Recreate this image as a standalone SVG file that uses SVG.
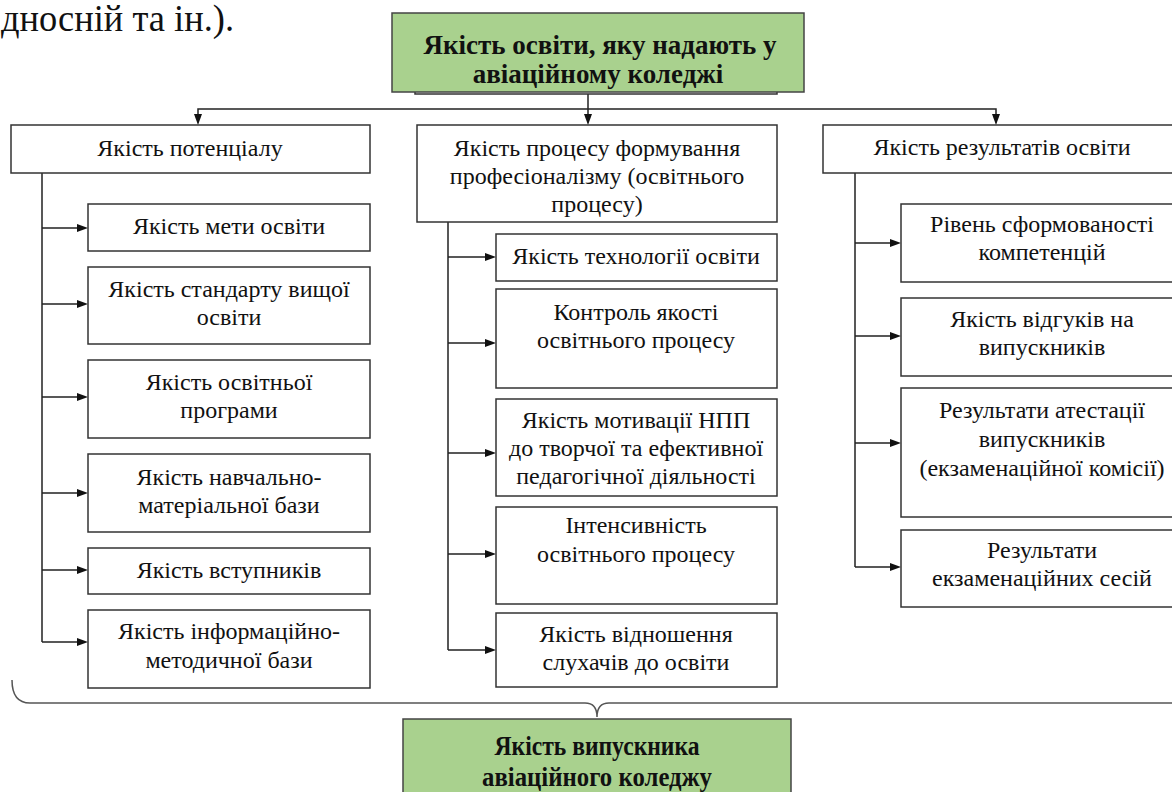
<svg xmlns="http://www.w3.org/2000/svg" width="1172" height="792" viewBox="0 0 1172 792">
<defs>
<style>
.bx{fill:#fff;stroke:#333;stroke-width:1.5}
.gr{fill:#a9d18e;stroke:#444;stroke-width:1.5}
.t{font-size:24px;text-anchor:middle;fill:#111}
.tb{font-size:27px;font-weight:bold;text-anchor:middle;fill:#111}
.ln{fill:none;stroke:#222;stroke-width:1.5}
.br{fill:none;stroke:#555;stroke-width:1.5}
</style>
<path id="ah" d="M-11,-4 L0,0 L-11,4 z" fill="#111"/>
</defs>
<rect width="1172" height="792" fill="#fff"/>

<g id="connectors">
<path class="ln" d="M588,94 V122"/>
<path class="ln" d="M198,122 V109 H996 V122"/>
<use href="#ah" transform="translate(588,125) rotate(90)"/>
<use href="#ah" transform="translate(198,125) rotate(90)"/>
<use href="#ah" transform="translate(996,125) rotate(90)"/>
<path class="ln" d="M42,173 V642 M42,228 H80 M42,304 H80 M42,397 H80 M42,493 H80 M42,570 H80 M42,642 H80"/>
<use href="#ah" transform="translate(88,228)"/>
<use href="#ah" transform="translate(88,304)"/>
<use href="#ah" transform="translate(88,397)"/>
<use href="#ah" transform="translate(88,493)"/>
<use href="#ah" transform="translate(88,570)"/>
<use href="#ah" transform="translate(88,642)"/>
<path class="ln" d="M448,222 V650 M448,257 H488 M448,343 H488 M448,453 H488 M448,554 H488 M448,650 H488"/>
<use href="#ah" transform="translate(496,257)"/>
<use href="#ah" transform="translate(496,343)"/>
<use href="#ah" transform="translate(496,453)"/>
<use href="#ah" transform="translate(496,554)"/>
<use href="#ah" transform="translate(496,650)"/>
<path class="ln" d="M855,173 V567 M855,243 H893 M855,336 H893 M855,443 H893 M855,567 H893"/>
<use href="#ah" transform="translate(901,243)"/>
<use href="#ah" transform="translate(901,336)"/>
<use href="#ah" transform="translate(901,443)"/>
<use href="#ah" transform="translate(901,567)"/>
<path class="br" d="M12,680 Q12,703 30,703 L585,703 Q597,703 597,717 Q597,703 609,703 L1172,703"/>
</g>

<text x="1" y="31" font-family="Liberation Serif" font-size="37" fill="#111" textLength="233" lengthAdjust="spacingAndGlyphs">дносній та ін.).</text>

<g id="top">
<rect class="bx" x="415" y="20" width="362" height="74"/>
<rect class="gr" x="392" y="13" width="412" height="79"/>
<text class="tb" font-family="Liberation Serif" x="600" y="54">Якість освіти, яку надають у</text>
<text class="tb" font-family="Liberation Serif" x="598" y="83">авіаційному коледжі</text>
</g>

<g id="potential">
<rect class="bx" x="11" y="125" width="359" height="48"/>
<text class="t" font-family="Liberation Serif" x="190" y="156">Якість потенціалу</text>
</g>
<g id="process">
<rect class="bx" x="417" y="125" width="360" height="97"/>
<text class="t" font-family="Liberation Serif" x="597" y="156">Якість процесу формування</text>
<text class="t" font-family="Liberation Serif" x="597" y="184">професіоналізму (освітнього</text>
<text class="t" font-family="Liberation Serif" x="597" y="212">процесу)</text>
</g>
<g id="results">
<rect class="bx" x="823" y="125" width="360" height="48"/>
<text class="t" font-family="Liberation Serif" x="1002" y="155">Якість результатів освіти</text>
</g>

<g id="l1"><rect class="bx" x="88" y="204" width="282" height="47"/><text class="t" font-family="Liberation Serif" x="229" y="234">Якість мети освіти</text></g>
<g id="l2"><rect class="bx" x="88" y="267" width="282" height="77"/><text class="t" font-family="Liberation Serif" x="229" y="297">Якість стандарту вищої</text><text class="t" font-family="Liberation Serif" x="229" y="325">освіти</text></g>
<g id="l3"><rect class="bx" x="88" y="360" width="282" height="78"/><text class="t" font-family="Liberation Serif" x="229" y="390">Якість освітньої</text><text class="t" font-family="Liberation Serif" x="229" y="418">програми</text></g>
<g id="l4"><rect class="bx" x="88" y="454" width="282" height="78"/><text class="t" font-family="Liberation Serif" x="229" y="485">Якість навчально-</text><text class="t" font-family="Liberation Serif" x="229" y="513">матеріальної бази</text></g>
<g id="l5"><rect class="bx" x="88" y="548" width="282" height="46"/><text class="t" font-family="Liberation Serif" x="229" y="578">Якість вступників</text></g>
<g id="l6"><rect class="bx" x="88" y="610" width="282" height="78"/><text class="t" font-family="Liberation Serif" x="229" y="639">Якість інформаційно-</text><text class="t" font-family="Liberation Serif" x="229" y="668">методичної бази</text></g>

<g id="m1"><rect class="bx" x="496" y="234" width="281" height="47"/><text class="t" font-family="Liberation Serif" x="636" y="264">Якість технології освіти</text></g>
<g id="m2"><rect class="bx" x="496" y="289" width="281" height="99"/><text class="t" font-family="Liberation Serif" x="636" y="320">Контроль якості</text><text class="t" font-family="Liberation Serif" x="636" y="348">освітнього процесу</text></g>
<g id="m3"><rect class="bx" x="496" y="399" width="281" height="97"/><text class="t" font-family="Liberation Serif" x="636" y="428">Якість мотивації НПП</text><text class="t" font-family="Liberation Serif" x="636" y="456">до творчої та ефективної</text><text class="t" font-family="Liberation Serif" x="636" y="484">педагогічної діяльності</text></g>
<g id="m4"><rect class="bx" x="496" y="507" width="281" height="97"/><text class="t" font-family="Liberation Serif" x="636" y="533">Інтенсивність</text><text class="t" font-family="Liberation Serif" x="636" y="562">освітнього процесу</text></g>
<g id="m5"><rect class="bx" x="496" y="613" width="281" height="74"/><text class="t" font-family="Liberation Serif" x="636" y="642">Якість відношення</text><text class="t" font-family="Liberation Serif" x="636" y="670">слухачів до освіти</text></g>

<g id="r1"><rect class="bx" x="901" y="204" width="283" height="78"/><text class="t" font-family="Liberation Serif" x="1042" y="232">Рівень сформованості</text><text class="t" font-family="Liberation Serif" x="1042" y="260">компетенцій</text></g>
<g id="r2"><rect class="bx" x="901" y="298" width="283" height="78"/><text class="t" font-family="Liberation Serif" x="1042" y="327">Якість відгуків на</text><text class="t" font-family="Liberation Serif" x="1042" y="355">випускників</text></g>
<g id="r3"><rect class="bx" x="901" y="388" width="283" height="129"/><text class="t" font-family="Liberation Serif" x="1042" y="418">Результати атестації</text><text class="t" font-family="Liberation Serif" x="1042" y="447">випускників</text><text class="t" font-family="Liberation Serif" x="1042" y="476">(екзаменаційної комісії)</text></g>
<g id="r4"><rect class="bx" x="901" y="530" width="283" height="77"/><text class="t" font-family="Liberation Serif" x="1042" y="558">Результати</text><text class="t" font-family="Liberation Serif" x="1042" y="586">екзаменаційних сесій</text></g>

<g id="graduate">
<rect class="gr" x="403" y="719" width="388" height="80"/>
<text class="tb" font-family="Liberation Serif" x="597" y="755" textLength="205" lengthAdjust="spacingAndGlyphs">Якість випускника</text>
<text class="tb" font-family="Liberation Serif" x="597" y="786" textLength="230" lengthAdjust="spacingAndGlyphs">авіаційного коледжу</text>
</g>
</svg>
